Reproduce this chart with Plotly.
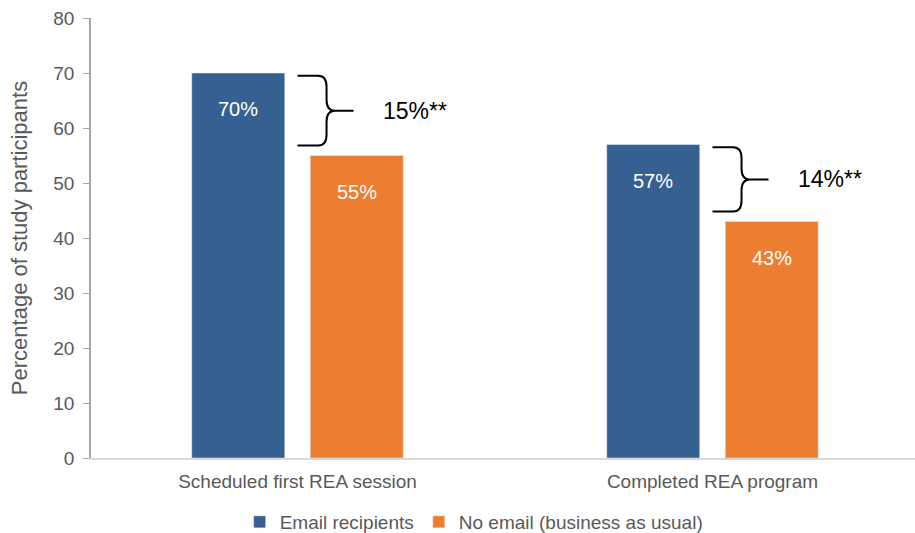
import plotly.graph_objects as go

categories = ["Scheduled first REA session", "Completed REA program"]
email_vals = [70, 57]
noemail_vals = [55, 43]
series_names = ["Email recipients", "No email (business as usual)"]
y_ticks = [0, 10, 20, 30, 40, 50, 60, 70, 80]

BLUE = "#376092"
ORANGE = "#ED7D31"
GREY = "#595959"
FONT = "Arial, Liberation Sans, sans-serif"

bargap = 0.429
bargroupgap = 0.215
xpos = list(range(len(categories)))

fig = go.Figure()
fig.add_trace(go.Bar(x=xpos, y=email_vals, name=series_names[0], marker_color=BLUE))
fig.add_trace(go.Bar(x=xpos, y=noemail_vals, name=series_names[1], marker_color=ORANGE))

W = 1 - bargap
annotations = []
for i in xpos:
    for val, off in ((email_vals[i], -W / 4), (noemail_vals[i], W / 4)):
        annotations.append(dict(x=i + off, y=val, xref="x", yref="y", text=f"{val}%",
                                showarrow=False, yshift=-36, yanchor="middle",
                                font=dict(family=FONT, size=20, color="white")))

shapes = []
for i in xpos:
    hi, lo = email_vals[i], noemail_vals[i]
    top = hi - 0.5
    bot = lo + 1.8
    mid = (top + bot) / 2
    x0, xv, xt = i + 0.0, i + 0.07, i + 0.135
    cx, ry = 0.02, 2.0
    path = (f"M {x0},{top} L {xv - cx},{top} Q {xv},{top} {xv},{top - ry} "
            f"L {xv},{mid + ry} Q {xv},{mid} {xv + cx},{mid} L {xt},{mid} "
            f"M {xv + cx},{mid} Q {xv},{mid} {xv},{mid - ry} "
            f"L {xv},{bot + ry} Q {xv},{bot} {xv - cx},{bot} L {x0},{bot}")
    shapes.append(dict(type="path", path=path, xref="x", yref="y",
                       line=dict(color="black", width=2)))
    annotations.append(dict(x=xt, y=mid, xref="x", yref="y", text=f"{hi - lo}%**",
                            showarrow=False, xanchor="left", xshift=27, yanchor="middle",
                            font=dict(family=FONT, size=23, color="black")))

fig.update_layout(
    width=915, height=533,
    margin=dict(l=91, r=0, t=18, b=75, autoexpand=False),
    paper_bgcolor="white", plot_bgcolor="white",
    barmode="group", bargap=bargap, bargroupgap=bargroupgap,
    font=dict(family=FONT, color=GREY, size=19),
    shapes=shapes, annotations=annotations,
    legend=dict(orientation="h", x=0.465, xanchor="center",
                yref="container", y=(533 - 522) / 533, yanchor="middle",
                font=dict(family=FONT, size=19, color=GREY)),
    xaxis=dict(range=[-0.4976, 1.488], tickvals=xpos, ticktext=categories,
               showline=True, linecolor="#D9D9D9", linewidth=1.5, ticks="",
               showgrid=False, zeroline=False, automargin=False, ticklabelstandoff=5,
               tickfont=dict(family=FONT, size=19, color=GREY)),
    yaxis=dict(range=[0, 80], tickvals=y_ticks, showline=True, linecolor="#A6A6A6",
               linewidth=1.5, ticks="outside", ticklen=6, tickcolor="#A6A6A6",
               showgrid=False, zeroline=False, automargin=False, ticklabelstandoff=5,
               tickfont=dict(family=FONT, size=19, color=GREY),
               title=dict(text="Percentage of study participants",
                          font=dict(family=FONT, size=22, color=GREY), standoff=20)),
)

fig.write_html("out.html")
